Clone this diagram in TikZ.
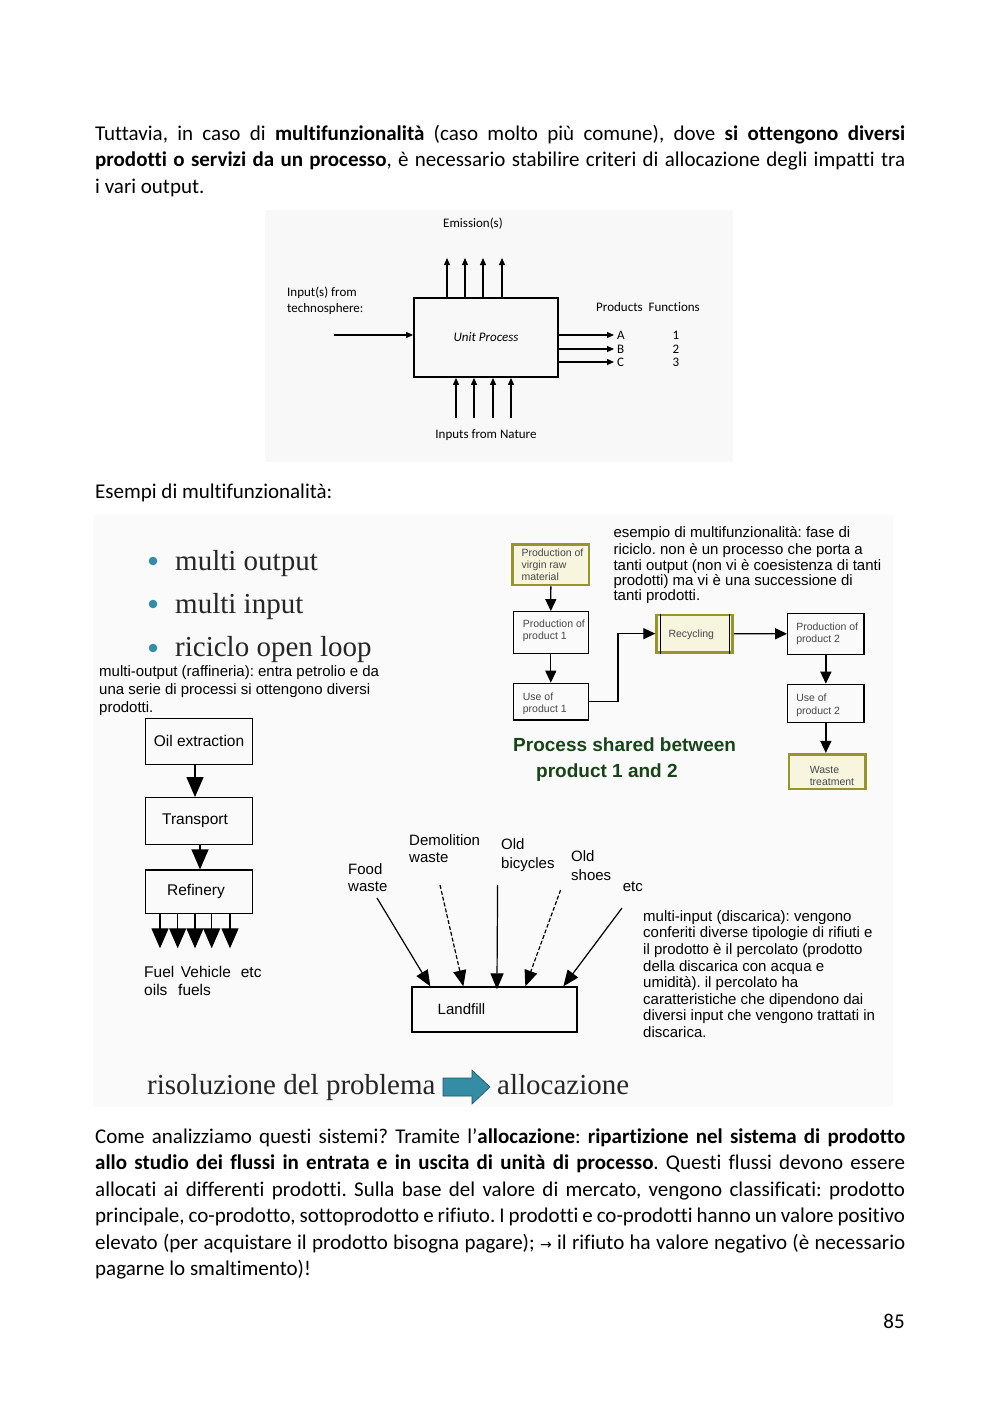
\documentclass[tikz,border=0pt]{standalone}
\usepackage{fontspec}
\setmainfont{Carlito}[Ligatures=NoCommon]
\newfontfamily\arialf{Liberation Sans}
\newfontfamily\serff{Liberation Serif}
\newfontfamily\djv{DejaVu Sans}
\usetikzlibrary{arrows.meta,calc}
\definecolor{tealc}{RGB}{52,140,165}
\definecolor{olivec}{RGB}{150,150,40}
\definecolor{beigec}{RGB}{247,245,222}
\definecolor{dgreen}{RGB}{22,68,22}
\definecolor{upbg}{RGB}{248,248,248}
\definecolor{imbg}{RGB}{250,250,250}
\frenchspacing
\begin{document}
\begin{tikzpicture}[x=1pt,y=-1pt,
  body/.style={inner sep=0, font=\fontsize{21}{26.5}\selectfont},
  para/.style={body, text width=810, align=justify, anchor=north west},
  upbox/.style={draw, line width=1.8, minimum width=144, minimum height=79, inner sep=0, font=\fontsize{13}{16}\selectfont\itshape},
  uptxt/.style={inner sep=0, font=\fontsize{13}{16}\selectfont},
  uparr/.style={line width=1.2, -{Triangle[length=7,width=6]}},
  serf/.style={inner sep=0, font=\serff\fontsize{29}{34}\selectfont, text=black!85},
  smtxt/.style={inner sep=0, align=left, font=\arialf\fontsize{15}{17.7}\selectfont},
  obox/.style={draw, line width=1.3, minimum width=106.6, inner sep=0, font=\arialf\fontsize{15.5}{18}\selectfont},
  oarr/.style={line width=1.3, -{Triangle[length=20,width=17]}},
  rbox/.style={draw, line width=1.2, inner sep=0},
  obx/.style={draw=olivec, fill=beigec, line width=2.8, inner sep=0},
  rtxt/.style={inner sep=0, align=left, font=\arialf\fontsize{10.5}{12.4}\selectfont, text=black!72},
  rarr/.style={line width=1.3, -{Triangle[length=12,width=11]}},
  larr/.style={line width=1.2, -{Triangle[length=16,width=13]}},
  ltxt/.style={inner sep=0, align=left, font=\arialf\fontsize{15}{17.5}\selectfont},
]
\useasboundingbox (0,0) rectangle (1000,1414);
\fill[white] (0,0) rectangle (1000,1414);

% ---------- top paragraph ----------
\node[para] (p1) at (95,121.5) {\spaceskip=4.75pt plus 8pt minus 2.5pt\tolerance=10000\hyphenpenalty=10000\strut Tuttavia, in caso di \textbf{multifunzionalità} (caso molto più comune), dove \textbf{si ottengono diversi}\linebreak \textbf{prodotti o servizi da un processo}, è necessario stabilire criteri di allocazione degli impatti tra\linebreak i vari output.};

% ---------- unit process ----------
\fill[upbg] (265,210) rectangle (733,462);
\node[upbox] (up) at (486,337.5) {Unit Process};
\node[uptxt] (em) at (473,224) {Emission(s)};
\foreach \i/\x in {1/447,2/465,3/483,4/502}{
  \coordinate (e\i) at (\x,258);
  \draw[uparr] (e\i |- up.north) -- (e\i);
}
\node[uptxt, anchor=north west, align=left] (tech) at (287,284.8) {\strut Input(s) from\\technosphere:};
\coordinate (tin) at (334,335);
\draw[uparr] (tin) -- (tin -| up.west);
\node[uptxt, anchor=west] (prodh) at (596,307) {Products\ \ Functions};
\node[uptxt, anchor=west] (pa) at (617,335) {A};
\node[uptxt, anchor=west] (pb) at (617,349) {B};
\node[uptxt, anchor=west] (pc) at (617,362) {C};
\draw[uparr] (up.east |- pa) -- ([xshift=-3]pa.west);
\draw[uparr] (up.east |- pb) -- ([xshift=-3]pb.west);
\draw[uparr] (up.east |- pc) -- ([xshift=-3]pc.west);
\node[uptxt] (f1) at (676,335) {1};
\node[uptxt] (f2) at (676,349) {2};
\node[uptxt] (f3) at (676,362) {3};
\foreach \i/\x in {1/456,2/474,3/493,4/511}{
  \coordinate (n\i) at (\x,418);
  \draw[uparr] (n\i) -- (n\i |- up.south);
}
\node[uptxt] (nat) at (486,435) {Inputs from Nature};

% ---------- Esempi ----------
\node[body, anchor=base west] (es) at (95,498) {Esempi di multifunzionalità:};

% ---------- big image ----------
\fill[imbg] (93,515) rectangle (893,1107);

% bullets
\fill[tealc] (153,561) circle (4.3);
\fill[tealc] (153,604) circle (4.3);
\fill[tealc] (153,648) circle (4.3);
\node[serf, anchor=base west] (b1) at (175,570) {multi output};
\node[serf, anchor=base west] (b2) at (175,613.3) {multi input};
\node[serf, anchor=base west] (b3) at (175,656.7) {riciclo open loop};

\node[smtxt, anchor=north west] (mo) at (99,664.1) {\strut multi-output (raffineria): entra petrolio e da\\una serie di processi si ottengono diversi\\prodotti.};

% oil diagram
\node[obox, minimum height=46] (oil) at (199,741.3) {Oil extraction};
\node[obox, minimum height=46.6] (tr) at (199,821) {\hspace*{-8pt}Transport};
\node[obox, minimum height=43.3] (ref) at (199,891.7) {\hspace*{-6pt}Refinery};
\draw[oarr] ([xshift=-4]oil.south) -- ([xshift=-4]tr.north);
\draw[oarr] ([xshift=1]tr.south) -- ([xshift=1]ref.north);
\foreach \i/\x in {1/160,2/177.7,3/195,4/211.7,5/230}{
  \coordinate (o\i) at (\x,948.3);
  \draw[oarr] (o\i |- ref.south) -- (o\i);
}
\node[inner sep=0, align=left, font=\arialf\fontsize{15.5}{18.4}\selectfont, anchor=north west] (fv) at (144,964.1) {\strut\makebox[36.7pt][l]{Fuel}\makebox[60pt][l]{Vehicle}etc\\\makebox[34pt][l]{oils}fuels};

% recycling diagram
\node[smtxt, font=\arialf\fontsize{15}{15.4}\selectfont, anchor=north west] (ex) at (613.3,526.7) {\strut esempio di multifunzionalità: fase di\\riciclo. non è un processo che porta a\\tanti output (non vi è coesistenza di tanti\\prodotti) ma vi è una successione di\\tanti prodotti.};

\node[obx, minimum width=76.3, minimum height=40.7] (pv) at (550.85,564.65) {};
\node[rbox, minimum width=75, minimum height=41.6] (pp1) at (550.8,632.5) {};
\node[rbox, minimum width=75, minimum height=36.7] (u1) at (550.8,701.65) {};
\node[obx, minimum width=76, minimum height=37.3] (rec) at (694.7,633.65) {};
\draw[line width=0.8] ([xshift=5]rec.north west) -- ([xshift=5]rec.south west);
\draw[line width=0.8] ([xshift=-5]rec.north east) -- ([xshift=-5]rec.south east);
\node[rbox, minimum width=76.3, minimum height=41] (pp2) at (825.85,633.8) {};
\node[rbox, minimum width=76.3, minimum height=38] (u2) at (825.85,703.3) {};
\node[obx, minimum width=76.7, minimum height=34.7] (wt) at (827.35,771.65) {};

\node[rtxt, anchor=west] (tpv) at ([xshift=10]pv.west) {Production of\\virgin raw\\material};
\node[rtxt, anchor=west] (tp1) at ([xshift=10,yshift=2]pp1.west) {Production of\\product 1};
\node[rtxt, anchor=west] (tu1) at ([xshift=10,yshift=-2]u1.west) {Use of\\product 1};
\node[rtxt, anchor=west] (trec) at ([xshift=13,yshift=-1]rec.west) {Recycling};
\node[rtxt, anchor=west] (tp2) at ([xshift=9]pp2.west) {Production of\\product 2};
\node[rtxt, anchor=west] (tu2) at ([xshift=9,yshift=-2]u2.west) {Use of\\product 2};
\node[rtxt, anchor=west] (twt) at ([xshift=22,yshift=-4.3]wt.west) {Waste\\treatment};

\draw[rarr] (pv.south) -- (pp1.north);
\draw[rarr] (pp1.south) -- (u1.north);
\draw[rarr] (u1.east) -- ++(29,0) |- (rec.west);
\draw[rarr] (rec.east) -- (pp2.west);
\draw[rarr] (pp2.south) -- (u2.north);
\draw[rarr] (u2.south) -- (u2.south |- wt.north);

\node[inner sep=0, align=left, anchor=north west, font=\arialf\bfseries\fontsize{19}{26.6}\selectfont, text=dgreen] (ps) at (513,732.4) {\strut Process shared between\\\hspace*{23pt}product 1 and 2};

% landfill
\node[draw, line width=1.3, minimum width=165, minimum height=45, inner sep=0, font=\arialf\fontsize{15}{17.5}\selectfont] (lf) at (494.5,1009.5) {\hspace*{-66pt}Landfill};
\node[ltxt, anchor=north west] (fw) at (348,861.7) {\strut Food\\waste};
\node[ltxt, anchor=north west] (dw) at (409,832.7) {\strut Demolition\\waste};
\node[ltxt, anchor=north west, font=\arialf\fontsize{15}{19}\selectfont] (ob) at (501,835.7) {\strut Old\\bicycles};
\node[ltxt, anchor=north west, font=\arialf\fontsize{15}{19}\selectfont] (os) at (571,847.7) {\strut Old\\shoes};
\node[ltxt, anchor=base west] (etc) at (622.6,891) {etc};
\coordinate (sfw) at (377,898);
\coordinate (sdw) at (440,885);
\coordinate (sob) at (497.6,885);
\coordinate (sos) at (560.6,890);
\coordinate (set) at (622,908);
\draw[larr] (sfw) -- ([xshift=19]lf.north west);
\draw[larr, dash pattern=on 4pt off 2pt] (sdw) -- ([xshift=52]lf.north west);
\draw[larr] (sob) -- ([xshift=85.6,yshift=-3]lf.north west);
\draw[larr, dash pattern=on 4pt off 2pt] (sos) -- ([xshift=114]lf.north west);
\draw[larr] (set) -- ([xshift=152]lf.north west);

\node[ltxt, font=\arialf\fontsize{15}{16.6}\selectfont, anchor=north west] (mi) at (643,909.4) {\strut multi-input (discarica): vengono\\conferiti diverse tipologie di rifiuti e\\il prodotto è il percolato (prodotto\\della discarica con acqua e\\umidità). il percolato ha\\caratteristiche che dipendono dai\\diversi input che vengono trattati in\\discarica.};

% bottom line
\node[serf, anchor=base west] (rp) at (147,1094) {risoluzione del problema};
\filldraw[fill=tealc, draw=tealc!60!black, line width=0.6] (443,1078) -- (472,1078) -- (472,1070) -- (490,1087) -- (472,1104) -- (472,1096) -- (443,1096) -- cycle;
\node[serf, anchor=base west] (al) at (497,1094) {allocazione};

% ---------- bottom paragraph ----------
\node[para] (p2) at (95,1124.5) {\spaceskip=4.75pt plus 8pt minus 2.5pt\tolerance=10000\hyphenpenalty=10000\strut Come analizziamo questi sistemi? Tramite l’\textbf{allocazione}: \textbf{ripartizione nel sistema di prodotto}\linebreak \textbf{allo studio dei flussi in entrata e in uscita di unità di processo}. Questi flussi devono essere\linebreak allocati ai differenti prodotti. Sulla base del valore di mercato, vengono classificati: prodotto\linebreak principale, co-prodotto, sottoprodotto e rifiuto. I prodotti e co-prodotti hanno un valore positivo\linebreak elevato (per acquistare il prodotto bisogna pagare); {\djv\fontsize{14}{14}\selectfont →} il rifiuto ha valore negativo (è necessario\linebreak pagarne lo smaltimento)!};

\node[body, anchor=base] (pn) at (894,1328) {85};
\end{tikzpicture}
\end{document}
